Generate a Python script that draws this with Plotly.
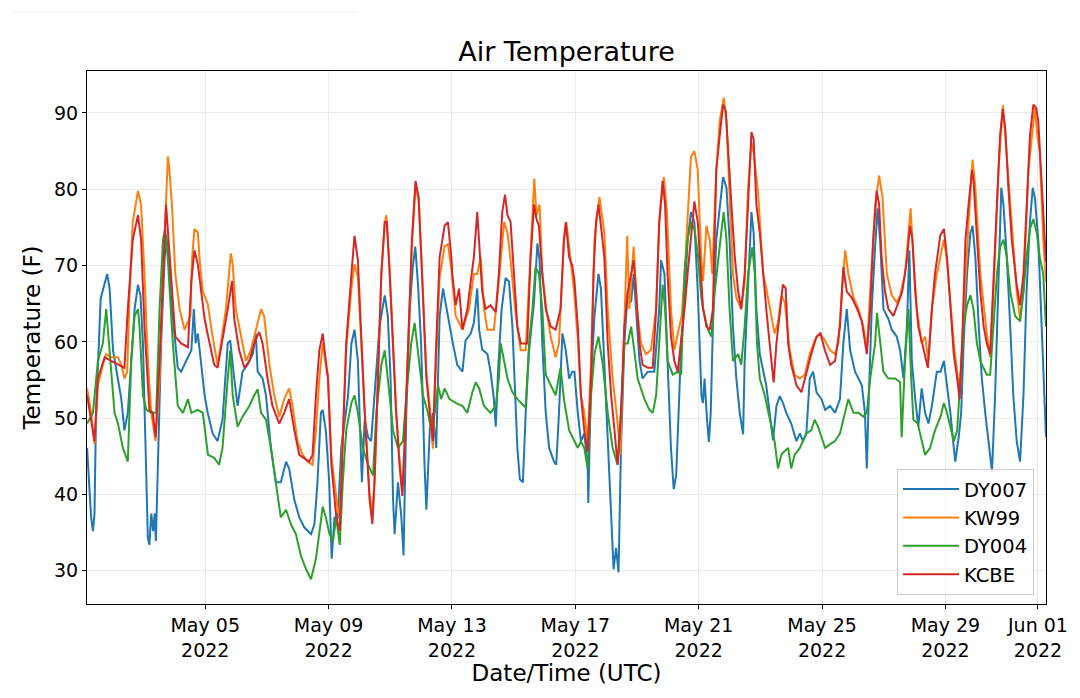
import pandas as pd
import plotly.graph_objs as go

# Air temperature readings.
# Time is given as fractional days since 2022-05-01 00:00 UTC, values in deg F.
dy007_day = [0.17, 0.30, 0.36, 0.41, 0.46, 0.52, 0.61, 0.82, 0.90, 1.01, 1.11, 1.17, 1.28, 1.38, 1.49, 1.60, 1.71, 1.82, 1.90, 1.98,
             2.03, 2.09, 2.14, 2.19, 2.25, 2.31, 2.36, 2.40, 2.49, 2.57, 2.68, 2.73, 2.81, 2.92, 3.11, 3.22, 3.38, 3.55, 3.63, 3.69,
             3.76, 3.87, 3.98, 4.08, 4.24, 4.40, 4.56, 4.73, 4.81, 4.94, 5.05, 5.21, 5.37, 5.54, 5.64, 5.70, 5.86, 5.97, 6.13, 6.29,
             6.45, 6.62, 6.72, 6.89, 7.05, 7.21, 7.43, 7.54, 7.64, 7.75, 7.81, 7.91, 8.02, 8.10, 8.19, 8.30, 8.41, 8.63, 8.74, 8.84,
             8.95, 9.04, 9.08, 9.17, 9.28, 9.38, 9.49, 9.65, 9.82, 9.92, 10.01, 10.09, 10.14, 10.25, 10.36, 10.43, 10.52, 10.63, 10.73, 10.81,
             10.90, 11.00, 11.11, 11.17, 11.28, 11.38, 11.49, 11.60, 11.71, 11.82, 11.92, 12.01, 12.17, 12.34, 12.44, 12.61, 12.71, 12.82, 12.88, 12.98,
             13.15, 13.25, 13.36, 13.42, 13.50, 13.61, 13.74, 13.85, 13.96, 14.03, 14.12, 14.20, 14.30, 14.39, 14.50, 14.66, 14.77, 14.84, 14.93, 15.04,
             15.15, 15.31, 15.38, 15.47, 15.58, 15.69, 15.80, 15.90, 15.97, 16.08, 16.18, 16.29, 16.40, 16.42, 16.51, 16.62, 16.75, 16.83, 16.94, 17.05,
             17.16, 17.24, 17.32, 17.40, 17.48, 17.59, 17.70, 17.81, 17.89, 17.97, 18.08, 18.18, 18.35, 18.56, 18.72, 18.78, 18.89, 18.99, 19.10, 19.19,
             19.27, 19.37, 19.43, 19.54, 19.64, 19.75, 19.86, 19.97, 20.03, 20.09, 20.14, 20.19, 20.27, 20.33, 20.39, 20.46, 20.57, 20.68, 20.79, 20.90,
             21.00, 21.11, 21.22, 21.33, 21.44, 21.49, 21.60, 21.71, 21.78, 21.87, 21.98, 22.09, 22.19, 22.30, 22.41, 22.52, 22.63, 22.73, 22.84, 23.00,
             23.17, 23.28, 23.38, 23.49, 23.60, 23.71, 23.82, 23.98, 24.10, 24.26, 24.42, 24.58, 24.69, 24.80, 24.91, 25.07, 25.29, 25.39, 25.45, 25.50,
             25.61, 25.72, 25.80, 25.88, 25.99, 26.15, 26.26, 26.42, 26.53, 26.64, 26.75, 26.83, 26.91, 27.02, 27.12, 27.23, 27.34, 27.45, 27.56, 27.72,
             27.84, 27.95, 28.05, 28.16, 28.27, 28.32, 28.38, 28.43, 28.51, 28.59, 28.70, 28.81, 28.88, 28.97, 29.08, 29.18, 29.29, 29.40, 29.51, 29.61,
             29.72, 29.81, 29.88, 29.99, 30.10, 30.20, 30.31, 30.42, 30.53, 30.63, 30.74, 30.83, 30.90, 31.01, 31.12, 31.19, 31.26]
dy007_temp = [46.1, 37.0, 35.2, 37.5, 50.7, 57.5, 65.7, 68.9, 67.0, 58.9, 56.6, 55.2, 52.5, 48.4, 50.7, 57.5, 64.3, 67.5, 66.1, 59.8,
              50.7, 41.6, 34.3, 33.4, 37.5, 35.2, 37.5, 33.9, 46.1, 59.8, 70.5, 74.0, 71.5, 64.3, 56.6, 56.1, 57.5, 58.9, 64.3, 59.8,
              61.1, 57.0, 53.0, 50.7, 48.0, 47.0, 49.8, 59.8, 60.2, 55.2, 51.6, 56.1, 57.0, 58.4, 61.1, 56.1, 55.2, 53.0, 46.1, 41.6,
              41.6, 44.3, 43.4, 39.3, 37.0, 35.7, 34.8, 36.1, 41.6, 50.7, 51.1, 48.4, 41.6, 31.6, 37.0, 37.0, 46.1, 52.9, 59.8, 61.6,
              57.5, 46.1, 41.6, 49.8, 47.5, 47.0, 53.0, 62.0, 66.1, 63.4, 55.2, 39.3, 34.8, 41.6, 37.0, 32.0, 50.7, 64.3, 69.8, 72.5,
              67.5, 59.8, 43.9, 38.0, 48.4, 50.7, 46.1, 63.4, 67.0, 64.3, 62.0, 60.2, 57.0, 56.1, 60.2, 61.1, 62.5, 67.0, 61.6, 59.0,
              58.4, 56.1, 52.5, 48.9, 56.6, 64.3, 68.4, 67.9, 62.0, 55.2, 46.1, 42.0, 41.6, 50.7, 58.9, 65.2, 72.9, 70.7, 59.8, 50.7,
              46.1, 44.3, 43.9, 50.7, 61.1, 58.9, 55.2, 56.1, 56.1, 50.7, 47.0, 48.0, 43.9, 38.9, 55.2, 63.4, 68.9, 67.0, 57.5, 46.1,
              37.0, 30.2, 33.0, 29.8, 46.1, 59.8, 66.6, 65.2, 68.9, 64.3, 57.5, 55.2, 56.1, 56.1, 64.3, 70.7, 68.9, 57.5, 46.1, 40.7,
              42.5, 53.0, 59.8, 65.2, 73.4, 77.0, 75.7, 66.6, 60.0, 52.9, 52.0, 55.2, 49.8, 46.9, 50.7, 62.0, 73.4, 78.0, 81.6, 80.2,
              73.4, 62.0, 55.2, 50.7, 47.9, 57.5, 66.6, 77.0, 74.3, 64.3, 58.4, 56.1, 54.3, 50.7, 47.1, 51.6, 52.9, 52.0, 50.7, 49.3,
              47.0, 48.0, 47.0, 48.0, 55.2, 56.1, 53.4, 52.5, 51.1, 51.6, 50.7, 52.5, 59.8, 64.3, 58.9, 56.1, 54.3, 50.7, 43.4, 50.7,
              64.3, 72.5, 77.5, 73.4, 64.3, 63.0, 61.6, 60.7, 58.9, 55.2, 62.0, 72.0, 57.5, 52.5, 48.9, 53.9, 50.7, 49.3, 51.6, 56.1,
              56.1, 57.5, 54.3, 50.7, 46.1, 44.3, 46.1, 47.5, 50.7, 59.8, 68.9, 74.3, 75.2, 71.1, 62.0, 55.2, 50.7, 47.0, 43.0, 53.0,
              66.6, 80.2, 78.0, 71.1, 62.0, 53.0, 47.0, 44.3, 53.0, 66.6, 75.7, 80.2, 78.9, 73.4, 62.0, 55.2, 47.5]

kw99_day = [0.17, 0.30, 0.41, 0.52, 0.68, 0.79, 0.95, 1.17, 1.28, 1.38, 1.47, 1.55, 1.65, 1.82, 1.92, 2.03, 2.14, 2.25, 2.39, 2.52,
            2.63, 2.73, 2.79, 2.84, 2.92, 3.03, 3.17, 3.33, 3.52, 3.57, 3.65, 3.76, 3.82, 3.92, 4.08, 4.24, 4.40, 4.51, 4.67, 4.83,
            4.89, 4.99, 5.16, 5.32, 5.48, 5.64, 5.81, 5.91, 6.08, 6.24, 6.40, 6.56, 6.72, 6.83, 6.99, 7.16, 7.32, 7.48, 7.59, 7.70,
            7.81, 7.91, 7.98, 8.09, 8.30, 8.36, 8.46, 8.57, 8.74, 8.84, 8.95, 9.06, 9.17, 9.33, 9.42, 9.49, 9.60, 9.71, 9.82, 9.87,
            9.98, 10.09, 10.19, 10.30, 10.39, 10.46, 10.57, 10.70, 10.82, 10.92, 11.03, 11.17, 11.28, 11.38, 11.49, 11.60, 11.76, 11.87, 11.98, 12.12,
            12.34, 12.55, 12.71, 12.82, 12.93, 13.04, 13.15, 13.36, 13.52, 13.69, 13.80, 13.90, 14.07, 14.23, 14.39, 14.55, 14.67, 14.74, 14.84, 14.93,
            15.06, 15.20, 15.36, 15.47, 15.63, 15.71, 15.85, 15.96, 16.08, 16.18, 16.29, 16.40, 16.51, 16.62, 16.78, 16.94, 17.05, 17.21, 17.35, 17.46,
            17.57, 17.68, 17.75, 17.89, 18.00, 18.13, 18.29, 18.45, 18.62, 18.72, 18.87, 18.97, 19.10, 19.21, 19.32, 19.45, 19.54, 19.64, 19.75, 19.86,
            19.97, 20.08, 20.14, 20.25, 20.36, 20.44, 20.57, 20.68, 20.81, 20.90, 21.00, 21.11, 21.22, 21.38, 21.49, 21.60, 21.71, 21.78, 21.92, 21.98,
            22.09, 22.19, 22.36, 22.46, 22.57, 22.68, 22.79, 22.95, 23.11, 23.28, 23.44, 23.60, 23.76, 23.92, 24.09, 24.26, 24.42, 24.53, 24.64, 24.75,
            24.85, 25.02, 25.18, 25.34, 25.45, 25.56, 25.72, 25.85, 25.96, 26.10, 26.26, 26.42, 26.53, 26.69, 26.80, 26.87, 26.96, 27.07, 27.23, 27.34,
            27.45, 27.56, 27.72, 27.84, 27.95, 28.05, 28.27, 28.46, 28.59, 28.75, 28.88, 28.97, 29.13, 29.34, 29.45, 29.56, 29.72, 29.86, 29.94, 30.10,
            30.31, 30.42, 30.53, 30.69, 30.85, 30.90, 30.98, 31.06, 31.17, 31.26]
kw99_temp = [53.9, 50.7, 46.6, 54.3, 57.0, 58.4, 58.0, 58.0, 57.0, 55.2, 56.1, 66.6, 75.7, 79.8, 77.9, 68.9, 57.5, 50.7, 47.0, 55.2,
             68.9, 80.2, 84.3, 82.5, 78.0, 68.9, 64.3, 61.6, 63.4, 70.7, 74.8, 74.3, 70.7, 66.6, 65.0, 60.7, 57.0, 59.8, 64.3, 71.6,
             70.2, 64.3, 60.7, 57.5, 58.9, 61.6, 64.3, 63.4, 57.0, 53.0, 50.2, 52.5, 53.9, 51.6, 47.0, 45.2, 44.3, 43.9, 48.4, 55.2,
             59.8, 57.0, 55.5, 45.0, 38.0, 37.0, 46.5, 59.0, 67.0, 70.2, 68.5, 59.5, 51.0, 40.0, 37.5, 42.0, 55.0, 69.0, 75.5, 76.6,
             69.5, 60.0, 51.0, 44.5, 40.5, 46.5, 59.5, 72.5, 80.5, 78.5, 69.0, 56.0, 51.5, 46.0, 58.0, 68.5, 72.5, 72.8, 69.5, 63.4,
             61.6, 64.3, 68.9, 68.9, 71.1, 64.3, 61.6, 61.6, 68.0, 75.7, 74.3, 70.7, 63.4, 58.9, 58.9, 71.1, 81.4, 76.6, 78.0, 68.9,
             64.3, 60.7, 58.0, 59.8, 73.4, 75.7, 70.7, 66.6, 60.5, 53.0, 50.7, 47.0, 57.5, 73.4, 79.0, 74.3, 64.3, 55.2, 50.2, 45.2,
             59.8, 73.9, 64.3, 72.5, 64.3, 59.8, 58.4, 58.9, 64.3, 75.7, 81.6, 77.0, 64.3, 58.9, 61.1, 63.4, 68.9, 75.7, 84.3, 85.0,
             82.5, 71.1, 68.0, 75.2, 73.4, 68.9, 82.5, 88.9, 92.0, 88.9, 80.0, 68.9, 65.8, 64.3, 67.9, 80.2, 86.1, 84.8, 79.8, 75.7,
             68.9, 67.0, 63.4, 61.1, 62.5, 66.1, 65.2, 58.9, 55.7, 55.2, 55.7, 58.4, 60.2, 61.1, 60.2, 58.9, 58.4, 59.8, 66.6, 72.0,
             68.9, 65.8, 64.3, 62.0, 58.9, 66.6, 77.9, 81.8, 78.9, 68.9, 66.1, 65.2, 66.1, 68.9, 74.8, 77.5, 71.1, 64.3, 59.8, 60.7,
             57.5, 64.3, 68.9, 71.1, 73.4, 70.7, 59.8, 53.4, 64.3, 75.7, 83.9, 80.2, 68.9, 61.1, 58.0, 67.0, 82.5, 91.0, 87.0, 78.0,
             66.6, 63.0, 66.6, 82.5, 89.3, 90.7, 87.0, 84.8, 73.4, 67.9]

dy004_day = [0.17, 0.36, 0.52, 0.68, 0.79, 0.90, 1.06, 1.17, 1.33, 1.49, 1.60, 1.71, 1.82, 1.87, 1.98, 2.09, 2.25, 2.41, 2.52, 2.63,
             2.70, 2.79, 2.95, 3.11, 3.28, 3.44, 3.55, 3.76, 3.92, 4.09, 4.29, 4.45, 4.56, 4.73, 4.81, 4.89, 5.05, 5.21, 5.43, 5.59,
             5.70, 5.81, 5.97, 6.13, 6.29, 6.45, 6.62, 6.78, 6.94, 7.10, 7.27, 7.43, 7.59, 7.70, 7.81, 7.91, 8.03, 8.14, 8.25, 8.36,
             8.46, 8.57, 8.74, 8.84, 8.95, 9.11, 9.28, 9.44, 9.55, 9.71, 9.82, 9.92, 10.09, 10.25, 10.41, 10.52, 10.68, 10.79, 10.90, 11.06,
             11.22, 11.33, 11.44, 11.55, 11.65, 11.76, 11.92, 12.12, 12.34, 12.50, 12.66, 12.77, 12.88, 13.04, 13.25, 13.42, 13.52, 13.58, 13.69, 13.80,
             13.96, 14.12, 14.39, 14.50, 14.61, 14.71, 14.82, 14.93, 15.04, 15.20, 15.36, 15.52, 15.63, 15.80, 15.97, 16.08, 16.18, 16.29, 16.40, 16.51,
             16.62, 16.75, 16.89, 17.05, 17.21, 17.37, 17.48, 17.59, 17.70, 17.81, 17.91, 18.02, 18.24, 18.40, 18.51, 18.62, 18.76, 18.83, 18.91, 18.99,
             19.16, 19.32, 19.43, 19.54, 19.64, 19.75, 19.86, 19.97, 20.08, 20.14, 20.30, 20.41, 20.52, 20.63, 20.73, 20.81, 20.90, 21.00, 21.11, 21.28,
             21.38, 21.49, 21.60, 21.74, 21.82, 21.89, 21.98, 22.14, 22.30, 22.46, 22.57, 22.68, 22.79, 22.90, 23.00, 23.11, 23.28, 23.38, 23.49, 23.65,
             23.76, 23.87, 23.98, 24.10, 24.26, 24.42, 24.58, 24.75, 24.85, 25.02, 25.18, 25.34, 25.45, 25.56, 25.72, 25.78, 25.88, 25.99, 26.15, 26.37,
             26.53, 26.58, 26.69, 26.80, 26.89, 26.96, 27.10, 27.23, 27.34, 27.50, 27.66, 27.84, 27.95, 28.05, 28.16, 28.27, 28.38, 28.48, 28.59, 28.70,
             28.81, 28.91, 29.02, 29.13, 29.34, 29.45, 29.56, 29.67, 29.77, 29.88, 29.99, 30.10, 30.26, 30.42, 30.53, 30.63, 30.74, 30.85, 30.96, 31.06,
             31.17, 31.26]
dy004_temp = [49.3, 50.7, 57.5, 59.8, 64.3, 58.9, 50.7, 49.3, 46.1, 44.3, 57.5, 63.4, 64.3, 62.0, 53.0, 51.1, 50.7, 50.7, 64.3, 73.4,
              74.8, 70.7, 59.8, 51.6, 50.7, 52.5, 50.7, 51.1, 50.7, 45.2, 44.8, 43.9, 46.1, 55.2, 58.9, 53.0, 48.9, 50.2, 51.6, 53.0,
              53.8, 50.7, 49.8, 46.1, 41.6, 37.0, 38.0, 36.1, 34.8, 32.0, 30.2, 28.9, 31.6, 34.8, 38.4, 37.0, 34.8, 33.9, 37.0, 33.4,
              41.6, 48.4, 52.0, 53.0, 50.7, 46.1, 43.9, 42.5, 50.7, 57.0, 58.9, 55.2, 48.4, 46.1, 47.0, 53.0, 59.8, 62.5, 58.9, 53.0,
              50.7, 48.4, 50.7, 54.3, 52.5, 53.9, 52.5, 52.0, 51.6, 50.7, 53.4, 54.7, 53.9, 51.6, 50.7, 51.6, 55.2, 59.8, 57.5, 55.2,
              53.4, 52.5, 51.4, 59.8, 64.3, 69.8, 68.9, 64.3, 55.7, 54.3, 53.0, 56.6, 52.5, 48.4, 47.0, 46.1, 47.0, 46.1, 43.4, 53.0,
              58.4, 60.7, 57.0, 50.7, 46.1, 43.9, 50.7, 59.8, 59.8, 62.0, 58.9, 55.2, 52.5, 51.1, 50.7, 53.0, 62.5, 67.5, 64.3, 57.5,
              55.7, 56.1, 55.7, 68.9, 73.4, 75.7, 74.8, 71.6, 66.0, 64.3, 61.6, 60.7, 66.6, 71.1, 74.3, 77.0, 73.4, 64.3, 57.5, 58.4,
              57.0, 62.0, 68.9, 72.4, 68.9, 59.8, 55.2, 53.0, 50.2, 47.0, 43.4, 45.2, 45.7, 46.1, 43.4, 45.2, 46.1, 47.0, 48.0, 48.4,
              49.8, 48.9, 47.5, 46.1, 46.6, 47.0, 48.0, 50.7, 52.5, 50.7, 50.7, 50.2, 50.7, 55.2, 59.8, 63.8, 59.8, 56.1, 55.2, 55.2,
              54.7, 47.5, 57.5, 64.3, 55.2, 49.8, 49.3, 47.0, 45.2, 46.1, 48.4, 50.2, 52.0, 50.7, 48.9, 47.0, 48.4, 55.2, 62.0, 64.8,
              66.1, 64.3, 59.8, 57.5, 55.7, 55.7, 62.0, 68.9, 72.4, 73.4, 71.1, 66.6, 63.4, 62.7, 66.6, 71.1, 74.8, 76.1, 74.3, 71.1,
              68.9, 62.0]

kcbe_day = [0.17, 0.41, 0.52, 0.74, 0.95, 1.17, 1.38, 1.49, 1.65, 1.82, 1.92, 2.03, 2.19, 2.30, 2.39, 2.52, 2.63, 2.73, 2.81, 2.92,
            3.03, 3.22, 3.44, 3.55, 3.65, 3.76, 3.87, 3.98, 4.08, 4.29, 4.40, 4.56, 4.73, 4.87, 4.94, 5.10, 5.27, 5.43, 5.59, 5.75,
            5.86, 6.02, 6.18, 6.40, 6.56, 6.72, 6.89, 7.05, 7.21, 7.37, 7.48, 7.59, 7.70, 7.81, 7.91, 7.98, 8.09, 8.25, 8.36, 8.46,
            8.57, 8.74, 8.84, 8.95, 9.06, 9.17, 9.33, 9.42, 9.49, 9.60, 9.71, 9.82, 9.89, 9.98, 10.09, 10.19, 10.30, 10.39, 10.46, 10.57,
            10.70, 10.82, 10.92, 11.03, 11.17, 11.28, 11.38, 11.49, 11.60, 11.76, 11.87, 11.98, 12.01, 12.12, 12.23, 12.34, 12.50, 12.61, 12.71, 12.82,
            12.88, 12.98, 13.09, 13.25, 13.42, 13.52, 13.63, 13.72, 13.80, 13.90, 14.01, 14.12, 14.23, 14.34, 14.44, 14.55, 14.66, 14.74, 14.82, 14.93,
            15.04, 15.20, 15.36, 15.52, 15.63, 15.69, 15.80, 15.90, 15.97, 16.08, 16.18, 16.29, 16.40, 16.51, 16.59, 16.67, 16.75, 16.83, 16.94, 17.05,
            17.16, 17.27, 17.37, 17.48, 17.59, 17.70, 17.81, 17.89, 17.97, 18.08, 18.18, 18.35, 18.51, 18.62, 18.72, 18.83, 18.91, 18.99, 19.10, 19.21,
            19.32, 19.43, 19.54, 19.64, 19.75, 19.86, 19.97, 20.08, 20.14, 20.25, 20.36, 20.46, 20.57, 20.68, 20.79, 20.88, 20.95, 21.06, 21.17, 21.28,
            21.38, 21.49, 21.60, 21.71, 21.78, 21.87, 21.98, 22.09, 22.19, 22.30, 22.43, 22.52, 22.63, 22.73, 22.82, 22.90, 23.00, 23.17, 23.33, 23.49,
            23.65, 23.82, 23.95, 24.09, 24.26, 24.42, 24.58, 24.69, 24.80, 24.96, 25.12, 25.29, 25.45, 25.56, 25.66, 25.77, 25.85, 25.93, 26.04, 26.15,
            26.31, 26.48, 26.60, 26.75, 26.85, 26.93, 27.02, 27.12, 27.29, 27.43, 27.56, 27.66, 27.83, 27.95, 28.05, 28.16, 28.27, 28.38, 28.46, 28.54,
            28.65, 28.75, 28.86, 28.91, 29.02, 29.13, 29.24, 29.34, 29.45, 29.56, 29.67, 29.77, 29.86, 29.94, 30.04, 30.15, 30.31, 30.42, 30.53, 30.63,
            30.74, 30.85, 30.94, 31.01, 31.12, 31.23, 31.26]
kcbe_temp = [53.0, 47.0, 55.2, 58.0, 57.5, 57.0, 56.6, 64.3, 73.4, 76.6, 73.4, 62.0, 51.1, 50.7, 47.5, 57.5, 68.9, 78.0, 73.4, 66.6,
             60.7, 59.8, 59.3, 68.0, 72.0, 70.2, 66.6, 63.0, 61.0, 57.0, 56.6, 60.2, 64.3, 68.0, 63.0, 58.9, 56.6, 57.5, 59.8, 61.3,
             59.8, 55.2, 51.6, 49.3, 50.7, 52.5, 48.4, 45.2, 44.8, 44.3, 45.2, 53.0, 58.9, 61.1, 57.5, 55.2, 43.9, 37.0, 35.2, 46.1,
             59.8, 68.9, 73.9, 70.7, 59.8, 50.7, 39.3, 36.1, 41.6, 55.2, 68.9, 75.7, 75.7, 68.9, 59.8, 50.7, 43.9, 39.8, 46.1, 59.8,
             73.4, 81.1, 78.9, 68.9, 55.2, 50.7, 47.0, 59.8, 71.1, 75.2, 75.7, 71.1, 68.9, 64.8, 67.0, 61.6, 64.3, 68.0, 71.1, 77.0,
             73.4, 66.6, 64.3, 64.8, 63.9, 68.9, 77.0, 79.3, 76.6, 75.7, 68.9, 62.0, 59.8, 59.8, 59.8, 71.1, 78.0, 76.1, 75.2, 68.9,
             64.3, 62.0, 61.6, 64.3, 73.4, 75.7, 71.1, 70.0, 68.0, 62.0, 53.0, 48.4, 45.6, 55.2, 68.9, 75.7, 78.0, 75.2, 71.1, 59.8,
             53.0, 48.4, 43.9, 50.7, 62.0, 66.6, 68.9, 70.7, 66.6, 59.8, 57.0, 56.6, 56.6, 64.3, 75.7, 81.1, 78.0, 68.9, 60.7, 57.5,
             56.1, 59.8, 64.3, 68.9, 73.4, 78.4, 75.7, 68.9, 64.5, 62.0, 61.6, 64.3, 82.5, 87.0, 91.1, 90.2, 85.0, 78.0, 71.1, 66.6,
             64.3, 68.9, 78.0, 87.5, 86.6, 78.0, 74.3, 68.9, 64.3, 59.8, 54.7, 59.8, 64.3, 67.5, 67.0, 59.8, 57.0, 54.3, 53.4, 56.1,
             58.4, 60.7, 61.1, 58.9, 57.0, 57.5, 62.0, 69.8, 66.6, 65.8, 64.5, 62.7, 58.4, 64.3, 73.4, 79.8, 78.0, 71.1, 66.6, 64.3,
             63.4, 65.2, 66.6, 70.7, 75.2, 73.4, 66.6, 62.0, 58.9, 56.6, 64.3, 68.9, 73.9, 74.8, 71.1, 64.3, 58.4, 55.2, 52.5, 59.8,
             73.4, 78.0, 82.5, 81.1, 73.4, 66.6, 62.0, 59.8, 58.4, 68.9, 78.0, 87.0, 90.5, 88.0, 80.2, 73.4, 67.5, 64.8, 68.9, 78.0,
             87.0, 91.1, 90.7, 88.9, 80.2, 71.1, 70.5]

series_names = ['DY007', 'KW99', 'DY004', 'KCBE']
series_colors = ['#1f77b4', '#ff7f0e', '#2ca02c', '#d62728']

tick_dates = ['2022-05-05', '2022-05-09', '2022-05-13', '2022-05-17', '2022-05-21', '2022-05-25', '2022-05-29', '2022-06-01']
tick_text = ['May 05<br>2022', 'May 09<br>2022', 'May 13<br>2022', 'May 17<br>2022', 'May 21<br>2022', 'May 25<br>2022',
             'May 29<br>2022', 'Jun 01<br>2022']
y_ticks = [30, 40, 50, 60, 70, 80, 90]


def to_time(days):
    # fractional days since the start of May -> UTC timestamps
    return pd.Timestamp('2022-05-01') + pd.to_timedelta(days, unit='D')


def main():
    font = 'DejaVu Sans'
    data = []
    days = [dy007_day, kw99_day, dy004_day, kcbe_day]
    temps = [dy007_temp, kw99_temp, dy004_temp, kcbe_temp]
    for name, color, d, t in zip(series_names, series_colors, days, temps):
        data.append(go.Scatter(x=to_time(d), y=t, mode='lines', name=name,
                               line=dict(color=color, width=2)))

    axis = dict(showline=True, linecolor='black', linewidth=1, mirror=True, ticks='outside', ticklen=4,
                tickcolor='black', tickwidth=1, showgrid=True, gridcolor='#ebebeb', gridwidth=1, zeroline=False,
                tickfont=dict(family=font, size=19, color='black'))
    xaxis = dict(axis, type='date', range=['2022-05-01 04:00', '2022-06-01 06:15'],
                 tickvals=tick_dates, ticktext=tick_text,
                 title=dict(text='Date/Time (UTC)', font=dict(family=font, size=23, color='black'), standoff=0))
    yaxis = dict(axis, range=[25.65, 95.5], tickvals=y_ticks,
                 title=dict(text='Temperature (F)', font=dict(family=font, size=23, color='black'), standoff=6))

    layout = go.Layout(width=1080, height=698, plot_bgcolor='white', paper_bgcolor='white',
                       margin=dict(l=87, r=34, t=71, b=94),
                       title=dict(text='Air Temperature', x=0.5, xref='paper', y=1 - 52 / 698, yanchor='middle',
                                  font=dict(family=font, size=27, color='black')),
                       xaxis=xaxis, yaxis=yaxis,
                       legend=dict(x=0.9875, y=0.017, xanchor='right', yanchor='bottom', itemwidth=56,
                                   bgcolor='rgba(255,255,255,0.8)', bordercolor='#cccccc', borderwidth=1,
                                   font=dict(family=font, size=19.5, color='black')),
                       # faint rule across the top-left of the page
                       shapes=[dict(type='line', xref='paper', yref='paper', x0=-0.0767, x1=0.2801, y0=1.1106, y1=1.1106,
                                    line=dict(color='#eeeeee', width=1))])

    fig = go.Figure(data=data, layout=layout)
    # drop the default page margin so the figure sits at the top-left corner
    fig.write_html('out.html', config={'displayModeBar': False},
                   post_script="document.body.style.margin = '0';")


if __name__ == '__main__':
    main()
